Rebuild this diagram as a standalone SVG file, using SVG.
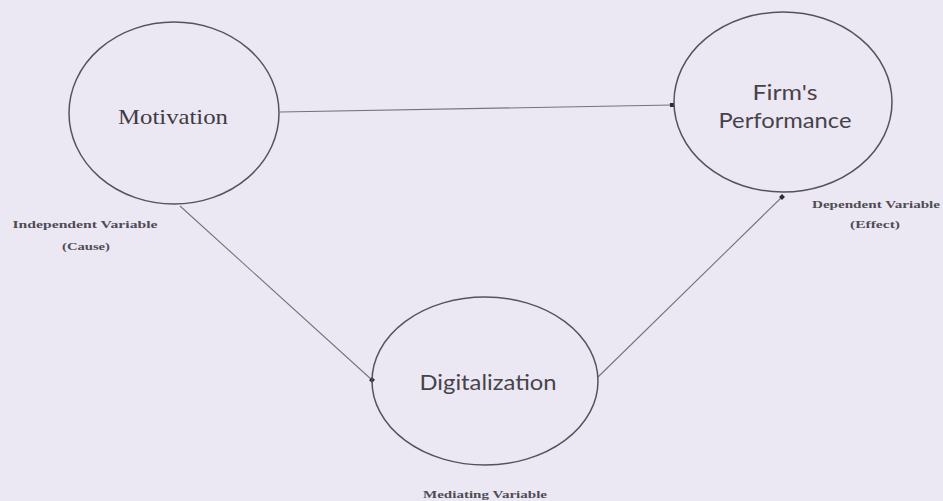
<svg xmlns="http://www.w3.org/2000/svg" width="943" height="501" viewBox="0 0 943 501">
  <style>
    .node { fill: none; stroke: #56525d; stroke-width: 1.5; }
    .edge { fill: none; stroke: #76727e; stroke-width: 1.1; }
    .serif { font-family: "Liberation Serif", "DejaVu Serif", serif; fill: #3f3c45; }
    .sans { font-family: Lato, "Liberation Sans", sans-serif; fill: #46434b; }
    .big { font-size: 21px; }
    .small { font-size: 10.5px; fill: #4f4c55; font-weight: bold; }
  </style>
  <defs>
    <marker id="dot" viewBox="0 0 6 6" refX="3" refY="3" markerWidth="5" markerHeight="5" markerUnits="userSpaceOnUse" orient="auto">
      <rect x="0.5" y="0.5" width="5" height="5" fill="#2e2b33"/>
    </marker>
  </defs>
  <rect width="943" height="501" fill="#ece8f3"/>

  <g id="connectors">
    <line class="edge" x1="280" y1="112" x2="672" y2="105" marker-end="url(#dot)"/>
    <line class="edge" x1="180" y1="206" x2="372" y2="380" marker-end="url(#dot)"/>
    <line class="edge" x1="598" y1="377" x2="782" y2="197" marker-end="url(#dot)"/>
  </g>

  <g id="motivation">
    <ellipse class="node" cx="174" cy="113" rx="105" ry="91"/>
    <text class="serif big" x="173" y="124" text-anchor="middle" textLength="110" lengthAdjust="spacingAndGlyphs">Motivation</text>
    <text class="serif small" x="85" y="228" text-anchor="middle" textLength="145" lengthAdjust="spacingAndGlyphs">Independent Variable</text>
    <text class="serif small" x="86" y="250" text-anchor="middle" textLength="48" lengthAdjust="spacingAndGlyphs">(Cause)</text>
  </g>

  <g id="performance">
    <ellipse class="node" cx="783" cy="102" rx="109" ry="90"/>
    <text class="sans big" x="785" y="100" text-anchor="middle" textLength="65" lengthAdjust="spacingAndGlyphs">Firm's</text>
    <text class="sans big" x="785" y="128" text-anchor="middle" textLength="133" lengthAdjust="spacingAndGlyphs">Performance</text>
    <text class="serif small" x="876" y="208" text-anchor="middle" textLength="128" lengthAdjust="spacingAndGlyphs">Dependent Variable</text>
    <text class="serif small" x="875" y="228" text-anchor="middle" textLength="50" lengthAdjust="spacingAndGlyphs">(Effect)</text>
  </g>

  <g id="digitalization">
    <ellipse class="node" cx="485" cy="381" rx="113" ry="84"/>
    <text class="sans big" x="488" y="390" text-anchor="middle" textLength="137" lengthAdjust="spacingAndGlyphs">Digitalization</text>
    <text class="serif small" x="485" y="498" text-anchor="middle" textLength="124" lengthAdjust="spacingAndGlyphs">Mediating Variable</text>
  </g>
</svg>
